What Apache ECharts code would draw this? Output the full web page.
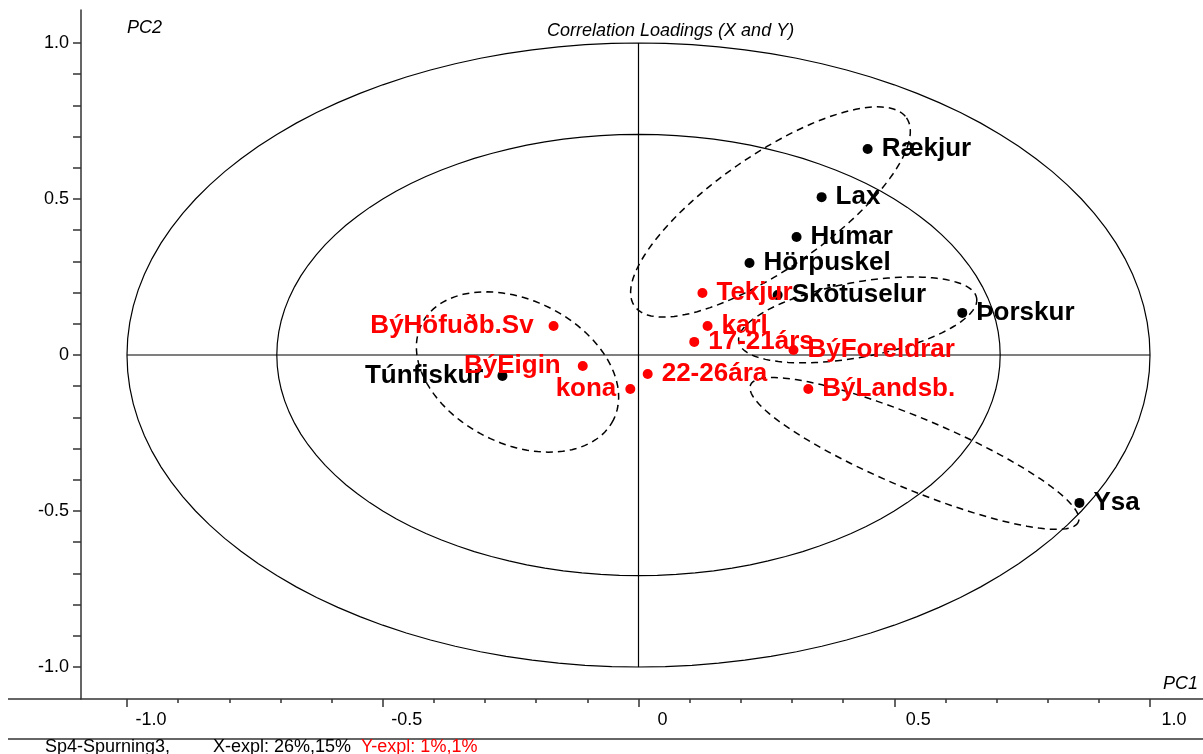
<!DOCTYPE html>
<html><head><meta charset="utf-8">
<script src="https://cdn.jsdelivr.net/npm/echarts@6.0.0/dist/echarts.min.js"></script>
<style>html,body{margin:0;padding:0;background:#fff}#c{width:1203px;height:754px}</style>
</head><body><div id="c"></div>
<script>
// ---- data ----
const xNames = ['Rækjur','Lax','Humar','Hörpuskel','Skötuselur','Þorskur','Ysa','Túnfiskur'];
const xPC1   = [0.448, 0.358, 0.309, 0.217, 0.272, 0.633, 0.862, -0.266];
const xPC2   = [0.660, 0.506, 0.378, 0.295, 0.192, 0.135, -0.474, -0.067];
const xLabelSide = ['right','right','right','right','right','right','right','left'];

const yNames = ['Tekjur','karl','17-21árs','BýForeldrar','BýLandsb.','22-26ára','kona','BýEigin','BýHöfuðb.Sv'];
const yPC1   = [0.125, 0.135, 0.109, 0.303, 0.332, 0.018, -0.016, -0.109, -0.166];
const yPC2   = [0.199, 0.093, 0.042, 0.016, -0.109, -0.061, -0.109, -0.035, 0.093];
const yLabelSide = ['right','right','right','right','right','right','left','left','left'];

// correlation circles (radius) : 100% and 50% explained variance
const circleRadii = [1.0, 0.7071];
// dashed group outlines: [end1 PC1, end1 PC2, end2 PC1, end2 PC2, width/length ratio]
const groupOutlines = [
  [-0.008, 0.157, 0.524, 0.760, 0.345],
  [-0.424, 0.099, -0.049, -0.208, 0.67],
  [0.196, 0.042, 0.661, 0.183, 0.31],
  [0.219, -0.096, 0.860, -0.535, 0.2]
];

const majorTicks = [-1.0, -0.5, 0, 0.5, 1.0];
const xMinorTicks = [-0.9,-0.8,-0.7,-0.6,-0.4,-0.3,-0.2,-0.1,0.1,0.2,0.3,0.4,0.6,0.7,0.8,0.9];
const yTicks = [-1.0,-0.9,-0.8,-0.7,-0.6,-0.5,-0.4,-0.3,-0.2,-0.1,0,0.1,0.2,0.3,0.4,0.5,0.6,0.7,0.8,0.9,1.0];

const FONT = 'Arial, "Liberation Sans", Helvetica, sans-serif';
const fmt = v => (Math.abs(v) < 1e-9 ? '0' : v.toFixed(1));

function pts(names, xs, ys, sides, distMap) {
  return names.map((n, i) => ({
    name: n, value: [xs[i], ys[i]],
    label: { position: sides[i], distance: (distMap && distMap[n] !== undefined) ? distMap[n] : 9 }
  }));
}
const leftDist = { 'Túnfiskur': 14, 'BýHöfuðb.Sv': 15, 'BýEigin': 17, 'kona': 9 };

function ellipsePoints(cx, cy, a, b, ang) {
  const p = [];
  const N = 120;
  for (let k = 0; k <= N; k++) {
    const t = k / N * Math.PI * 2;
    const ex = a * Math.cos(t), ey = b * Math.sin(t);
    p.push([cx + ex * Math.cos(ang) - ey * Math.sin(ang), cy + ex * Math.sin(ang) + ey * Math.cos(ang)]);
  }
  return p;
}

const chart = echarts.init(document.getElementById('c'), null, { renderer: 'canvas' });
const option = {
  animation: false,
  backgroundColor: '#fff',
  title: {
    text: 'Correlation Loadings (X and Y)', left: 542, top: 17,
    textStyle: { fontFamily: FONT, fontStyle: 'italic', fontWeight: 'normal', fontSize: 18, color: '#000' }
  },
  grid: { left: 81, right: 0, top: 10, bottom: 55 },
  xAxis: [{
    type: 'value', min: -1.0899, max: 1.1036, position: 'bottom',
    axisLine: { show: true, onZero: false, lineStyle: { color: '#333', width: 1.5 } },
    axisTick: { show: true, length: 8, customValues: majorTicks, lineStyle: { color: '#333', width: 1.5 } },
    axisLabel: { customValues: majorTicks, formatter: fmt, fontFamily: FONT, fontSize: 18, color: '#000',
                 margin: 12, align: 'center', padding: [0, 0, 0, 48] },
    splitLine: { show: false }
  }, {
    type: 'value', min: -1.0899, max: 1.1036, position: 'bottom', offset: 0,
    axisLine: { show: false, onZero: false },
    axisTick: { show: true, length: 4, customValues: xMinorTicks, lineStyle: { color: '#333', width: 1.5 } },
    axisLabel: { show: false },
    splitLine: { show: false }
  }],
  yAxis: {
    type: 'value', min: -1.1026, max: 1.1058, position: 'left',
    axisLine: { show: true, onZero: false, lineStyle: { color: '#333', width: 1.5 } },
    axisTick: { show: true, length: 8, customValues: yTicks, lineStyle: { color: '#333', width: 1.5 } },
    axisLabel: { customValues: majorTicks, formatter: fmt, fontFamily: FONT, fontSize: 18, color: '#000', margin: 12 },
    splitLine: { show: false }
  },
  graphic: [
    { type: 'line', shape: { x1: 8, y1: 699, x2: 81, y2: 699 }, style: { stroke: '#333', lineWidth: 1.5 } },
    { type: 'line', shape: { x1: 8, y1: 739, x2: 1203, y2: 739 }, style: { stroke: '#333', lineWidth: 1.5 } },
    { type: 'text', left: 127, top: 19, style: { text: 'PC2', font: 'italic 18px ' + FONT, fill: '#000' } },
    { type: 'text', left: 1163, top: 675, style: { text: 'PC1', font: 'italic 18px ' + FONT, fill: '#000' } },
    { type: 'text', left: 45, top: 738, style: { text: 'Sp4-Spurning3,', font: '18px ' + FONT, fill: '#000' } },
    { type: 'text', left: 213, top: 738, style: { text: 'X-expl: 26%,15%', font: '18px ' + FONT, fill: '#000' } },
    { type: 'text', left: 361, top: 738, style: { text: 'Y-expl: 1%,1%', font: '18px ' + FONT, fill: '#ff0000' } }
  ],
  series: [
    {
      type: 'custom', silent: true, z: 1,
      data: circleRadii.map(r => [r]),
      encode: { x: -1, y: -1 },
      renderItem: (params, api) => {
        const r = api.value(0);
        const c = api.coord([0, 0]);
        const s = api.size([r, r]);
        return { type: 'polyline', shape: { points: ellipsePoints(c[0], c[1], s[0], s[1], 0) },
                 style: { fill: null, stroke: '#000', lineWidth: 1.2 } };
      }
    },
    {
      type: 'line', silent: true, z: 1, symbol: 'none',
      data: [[-1, 0], [1, 0]], lineStyle: { color: '#000', width: 1.2 }
    },
    {
      type: 'line', silent: true, z: 1, symbol: 'none',
      data: [[0, -1], [0, 1]], lineStyle: { color: '#000', width: 1.2 }
    },
    {
      type: 'custom', silent: true, z: 2,
      data: groupOutlines,
      encode: { x: -1, y: -1 },
      renderItem: (params, api) => {
        const p1 = api.coord([api.value(0), api.value(1)]);
        const p2 = api.coord([api.value(2), api.value(3)]);
        const ratio = api.value(4);
        const dx = p2[0] - p1[0], dy = p2[1] - p1[1];
        const a = Math.sqrt(dx * dx + dy * dy) / 2;
        const ang = Math.atan2(dy, dx);
        return { type: 'polyline',
                 shape: { points: ellipsePoints((p1[0] + p2[0]) / 2, (p1[1] + p2[1]) / 2, a, a * ratio, ang) },
                 style: { fill: null, stroke: '#000', lineWidth: 1.5, lineDash: [7, 5] } };
      }
    },
    {
      type: 'scatter', z: 5, symbol: 'circle', symbolSize: 10,
      itemStyle: { color: '#000', opacity: 1 },
      data: pts(xNames, xPC1, xPC2, xLabelSide, leftDist),
      label: { show: true, formatter: '{b}', fontFamily: FONT, fontWeight: 'bold', fontSize: 26, color: '#000' }
    },
    {
      type: 'scatter', z: 5, symbol: 'circle', symbolSize: 10,
      itemStyle: { color: '#ff0000', opacity: 1 },
      data: pts(yNames, yPC1, yPC2, yLabelSide, leftDist),
      label: { show: true, formatter: '{b}', fontFamily: FONT, fontWeight: 'bold', fontSize: 26, color: '#ff0000' }
    }
  ]
};
chart.setOption(option);
</script>
</body></html>
